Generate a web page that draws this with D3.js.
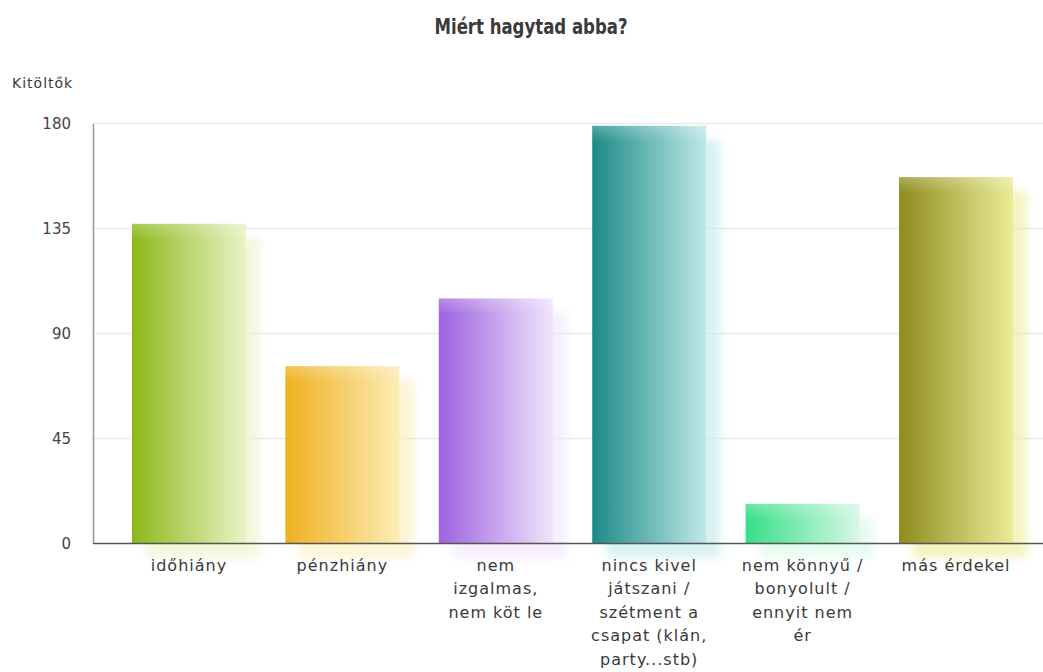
<!DOCTYPE html>
<html>
<head>
<meta charset="utf-8">
<script src="https://cdn.jsdelivr.net/npm/d3@7"></script>
<style>
  body { margin: 0; background: #fff; }
  text { font-family: "DejaVu Sans", sans-serif; fill: #333; }
</style>
</head>
<body>
<div id="vis"></div>
<script>
// chart data
var categories = [
    "időhiány",
    "pénzhiány",
    "nem\nizgalmas,\nnem köt le",
    "nincs kivel\njátszani /\nszétment a\ncsapat (klán,\nparty...stb)",
    "nem könnyű /\nbonyolult /\nennyit nem\nér",
    "más érdekel"
];
var values = [137, 76, 105, 179, 17, 157];
var yTicks = [0, 45, 90, 135, 180];
var darkColors = ["#8cb81a", "#f0b020", "#9e62e0", "#1b8a86", "#35df86", "#8e8c1c"];
var lightColors = ["#eaf3c6", "#fbedb5", "#efe4fa", "#bfe9e8", "#d8f8e7", "#ecec98"];

var width = 1043, height = 672;
var left = 93, baseY = 543.5, topY = 123.5;

var svg = d3.select("#vis").append("svg")
    .attr("width", width)
    .attr("height", height);

var defs = svg.append("defs");

// scales
var x = d3.scaleBand()
    .domain(categories)
    .range([left, 1052])
    .paddingInner(0.257)
    .paddingOuter(0.254);

var y = d3.scaleLinear()
    .domain([0, 180])
    .range([baseY, topY]);

// gradients per bar
categories.forEach(function(c, i) {
    var g = defs.append("linearGradient")
        .attr("id", "grad" + i)
        .attr("x1", 0).attr("x2", 1).attr("y1", 0).attr("y2", 0);
    g.append("stop").attr("offset", "0%").attr("stop-color", darkColors[i]);
    g.append("stop").attr("offset", "100%").attr("stop-color", lightColors[i]);
});

var shine = defs.append("linearGradient")
    .attr("id", "shine")
    .attr("x1", 0).attr("x2", 0).attr("y1", 0).attr("y2", 1);
shine.append("stop").attr("offset", "0%").attr("stop-color", "#fff").attr("stop-opacity", 0.25);
shine.append("stop").attr("offset", "100%").attr("stop-color", "#fff").attr("stop-opacity", 0);

defs.append("filter")
    .attr("id", "blur")
    .attr("x", "-30%").attr("y", "-30%").attr("width", "160%").attr("height", "160%")
    .append("feGaussianBlur")
    .attr("stdDeviation", 4);

// title
svg.append("text")
    .attr("x", 531)
    .attr("y", 34)
    .attr("text-anchor", "middle")
    .attr("font-family", "'DejaVu Sans Condensed', 'DejaVu Sans', sans-serif")
    .attr("font-weight", "bold")
    .attr("font-size", 21)
    .attr("textLength", 193)
    .attr("lengthAdjust", "spacingAndGlyphs")
    .style("fill", "#3a3a3a")
    .text("Miért hagytad abba?");

// y axis title
svg.append("text")
    .attr("x", 12)
    .attr("y", 88)
    .attr("font-size", 14)
    .attr("letter-spacing", 1)
    .style("fill", "#3a3a3a")
    .text("Kitöltők");

// gridlines
svg.append("g")
    .selectAll("line")
    .data(yTicks.filter(function(d) { return d > 0; }))
    .enter().append("line")
    .attr("x1", left).attr("x2", width)
    .attr("y1", function(d) { return y(d); })
    .attr("y2", function(d) { return y(d); })
    .attr("stroke", "#e9e9ee")
    .attr("stroke-width", 1.5);

// shadows
svg.append("g")
    .selectAll("rect")
    .data(values)
    .enter().append("rect")
    .attr("x", function(d, i) { return x(categories[i]) + 14; })
    .attr("y", function(d) { return y(d) + 14; })
    .attr("width", x.bandwidth())
    .attr("height", function(d) { return baseY - y(d); })
    .attr("fill", function(d, i) { return lightColors[i]; })
    .attr("opacity", 0.6)
    .attr("filter", "url(#blur)");

// bars
var bars = svg.append("g");
bars.selectAll("rect.bar")
    .data(values)
    .enter().append("rect")
    .attr("class", "bar")
    .attr("x", function(d, i) { return x(categories[i]); })
    .attr("y", function(d) { return y(d); })
    .attr("width", x.bandwidth())
    .attr("height", function(d) { return baseY - y(d); })
    .attr("fill", function(d, i) { return "url(#grad" + i + ")"; });

bars.selectAll("rect.shine")
    .data(values)
    .enter().append("rect")
    .attr("class", "shine")
    .attr("x", function(d, i) { return x(categories[i]); })
    .attr("y", function(d) { return y(d); })
    .attr("width", x.bandwidth())
    .attr("height", function(d) { return Math.min(16, baseY - y(d)); })
    .attr("fill", "url(#shine)");

// y axis
var yAxis = svg.append("g")
    .attr("transform", "translate(" + left + ",0)")
    .call(d3.axisLeft(y).tickValues(yTicks).tickSize(0).tickPadding(22));
yAxis.select(".domain").attr("stroke", "#999").attr("stroke-width", 1.5);
yAxis.selectAll("text")
    .attr("font-family", "'DejaVu Sans', sans-serif")
    .attr("font-size", 15)
    .style("fill", "#444");

// x baseline
svg.append("line")
    .attr("x1", left).attr("x2", width)
    .attr("y1", baseY).attr("y2", baseY)
    .attr("stroke", "#555")
    .attr("stroke-width", 1.5);

// category labels
var labels = svg.append("g")
    .selectAll("text")
    .data(categories)
    .enter().append("text")
    .attr("text-anchor", "middle")
    .attr("font-size", 16)
    .attr("letter-spacing", 1)
    .style("fill", "#3a3a3a");

labels.each(function(c) {
    var t = d3.select(this);
    c.split("\n").forEach(function(line, k) {
        t.append("tspan")
            .attr("x", x(c) + x.bandwidth() / 2)
            .attr("y", 571 + k * 23.4)
            .text(line);
    });
});
</script>
</body>
</html>
